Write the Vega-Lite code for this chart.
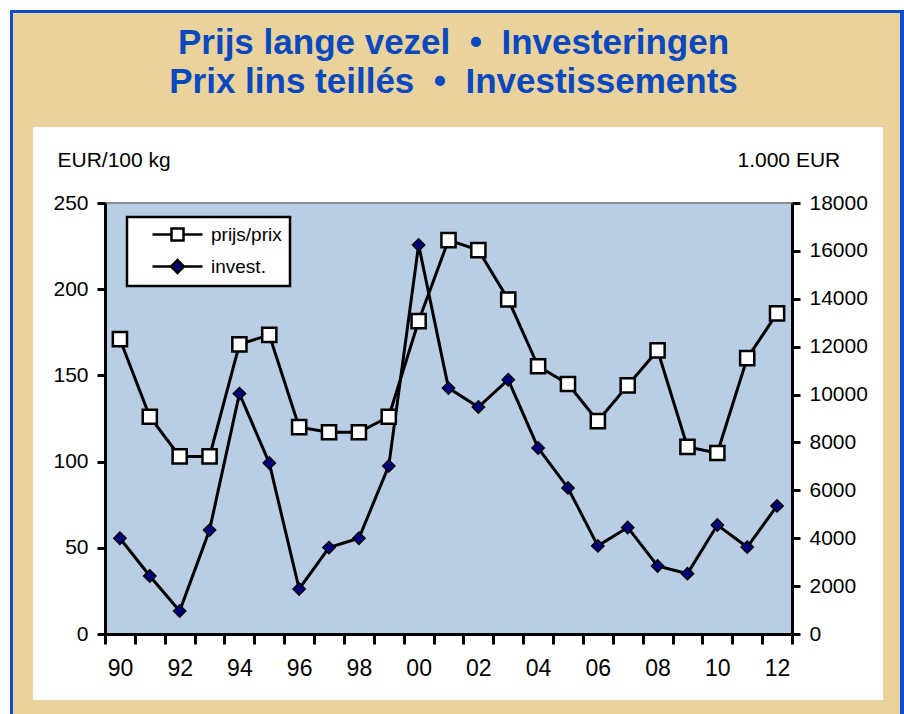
{
  "$schema": "https://vega.github.io/schema/vega-lite/v6.json",
  "background": "white",
  "padding": {"left": 10, "top": 10, "right": 0, "bottom": 0},
  "data": {"values": []},
  "columns": 7,
  "spacing": 0,
  "bounds": "flush",
  "align": "each",
  "config": {
    "view": {"stroke": null},
    "font": "Liberation Sans",
    "legend": {
      "orient": "none", "legendX": 117, "legendY": 207,
      "fillColor": "white", "strokeColor": "black", "strokeWidth": 2.5,
      "padding": 8, "labelFont": "Liberation Sans", "labelFontSize": 19, "labelColor": "black",
      "symbolSize": 256, "symbolOffset": 33, "labelOffset": 24, "rowPadding": 9,
      "symbolStrokeColor": "black", "symbolStrokeWidth": 2.5, "symbolOpacity": 1, "labelLimit": 300
    }
  },
  "concat": [
    {"width": 3, "height": 3, "mark": "point", "view": {"fill": "#0A50C8"}},
    {"width": 20, "height": 3, "mark": "point", "view": {"fill": "#0A50C8"}},
    {"width": 72, "height": 3, "mark": "point", "view": {"fill": "#0A50C8"}},
    {"width": 687, "height": 3, "mark": "point", "view": {"fill": "#0A50C8"}},
    {"width": 91, "height": 3, "mark": "point", "view": {"fill": "#0A50C8"}},
    {"width": 17, "height": 3, "mark": "point", "view": {"fill": "#0A50C8"}},
    {"width": 4, "height": 3, "mark": "point", "view": {"fill": "#0A50C8"}},

    {"width": 3, "height": 114, "mark": "point", "view": {"fill": "#0A50C8"}},
    {"width": 20, "height": 114, "mark": "point", "view": {"fill": "#E9D29C"}},
    {"width": 72, "height": 114, "mark": "point", "view": {"fill": "#E9D29C"}},
    {
      "width": 687, "height": 114,
      "view": {"fill": "#E9D29C"},
      "data": {"values": [
        {"t": "Prijs lange vezel\u00a0\u00a0•\u00a0\u00a0Investeringen", "r": 1},
        {"t": "Prix lins teillés\u00a0\u00a0•\u00a0\u00a0Investissements", "r": 2}
      ]},
      "mark": {"type": "text", "font": "Liberation Sans", "fontSize": 35, "fontWeight": "bold", "color": "#0A48C0", "baseline": "middle", "dx": 5},
      "encoding": {
        "text": {"field": "t"},
        "y": {"field": "r", "type": "quantitative", "axis": null, "scale": {"domain": [0.23, 3.15], "reverse": true, "nice": false, "zero": false}}
      }
    },
    {"width": 91, "height": 114, "mark": "point", "view": {"fill": "#E9D29C"}},
    {"width": 17, "height": 114, "mark": "point", "view": {"fill": "#E9D29C"}},
    {"width": 4, "height": 114, "mark": "point", "view": {"fill": "#0A50C8"}},

    {"width": 3, "height": 76, "mark": "point", "view": {"fill": "#0A50C8"}},
    {"width": 20, "height": 76, "mark": "point", "view": {"fill": "#E9D29C"}},
    {"width": 72, "height": 76, "mark": "point"},
    {"width": 687, "height": 76, "mark": "point"},
    {"width": 91, "height": 76, "mark": "point"},
    {"width": 17, "height": 76, "mark": "point", "view": {"fill": "#E9D29C"}},
    {"width": 4, "height": 76, "mark": "point", "view": {"fill": "#0A50C8"}},

    {"width": 3, "height": 431, "mark": "point", "view": {"fill": "#0A50C8"}},
    {"width": 20, "height": 431, "mark": "point", "view": {"fill": "#E9D29C"}},
    {"width": 72, "height": 431, "mark": "point"},
    {
      "width": 687, "height": 431,
      "view": {"fill": "#B9CDE4", "stroke": "#8c8c8c", "strokeWidth": 2},
      "data": {"values": [
        {"yr": "90", "prijs": 171, "invest": 4000},
        {"yr": "91", "prijs": 126, "invest": 2420},
        {"yr": "92", "prijs": 103, "invest": 960},
        {"yr": "93", "prijs": 103, "invest": 4340},
        {"yr": "94", "prijs": 168, "invest": 10040},
        {"yr": "95", "prijs": 173.5, "invest": 7140},
        {"yr": "96", "prijs": 120, "invest": 1880},
        {"yr": "97", "prijs": 117, "invest": 3610},
        {"yr": "98", "prijs": 117, "invest": 4000},
        {"yr": "99", "prijs": 126, "invest": 7020},
        {"yr": "00", "prijs": 181.5, "invest": 16250},
        {"yr": "01", "prijs": 228.5, "invest": 10270},
        {"yr": "02", "prijs": 222.7, "invest": 9480},
        {"yr": "03", "prijs": 194, "invest": 10620},
        {"yr": "04", "prijs": 155.3, "invest": 7770},
        {"yr": "05", "prijs": 145, "invest": 6100},
        {"yr": "06", "prijs": 123.5, "invest": 3680},
        {"yr": "07", "prijs": 144.2, "invest": 4450},
        {"yr": "08", "prijs": 164.5, "invest": 2840},
        {"yr": "09", "prijs": 108.5, "invest": 2520},
        {"yr": "10", "prijs": 105, "invest": 4550},
        {"yr": "11", "prijs": 160, "invest": 3630},
        {"yr": "12", "prijs": 186, "invest": 5350}
      ]},
      "layer": [
        {
          "mark": {"type": "line", "color": "black", "strokeWidth": 3},
          "encoding": {
            "x": {"field": "yr", "type": "ordinal", "sort": null, "bandPosition": 0.5,
              "scale": {"type": "band", "paddingInner": 0, "paddingOuter": 0},
              "axis": {"title": null, "labelAngle": 0, "labelExpr": "toNumber(datum.value) % 2 == 0 ? datum.label : ''",
                "labelOverlap": false, "labelFont": "Liberation Sans", "labelFontSize": 23, "labelColor": "black", "labelPadding": 13,
                "tickBand": "extent", "tickSize": 10, "tickWidth": 3, "tickColor": "black",
                "domainWidth": 3, "domainColor": "black", "grid": false}},
            "y": {"field": "prijs", "type": "quantitative", "scale": {"domain": [0, 250], "nice": false},
              "axis": {"orient": "left", "values": [0, 50, 100, 150, 200, 250], "title": "EUR/100 kg",
                "titleAngle": 0, "titleAlign": "left", "titleBaseline": "middle", "titleX": -48, "titleY": -43,
                "titleFont": "Liberation Sans", "titleFontSize": 21, "titleFontWeight": "normal", "titleColor": "black",
                "labelFont": "Liberation Sans", "labelFontSize": 21, "labelColor": "black", "labelPadding": 9,
                "domainColor": "black", "domainWidth": 3, "tickColor": "black", "tickWidth": 3, "tickSize": 8, "grid": false}}
          }
        },
        {
          "mark": {"type": "line", "color": "black", "strokeWidth": 3},
          "encoding": {
            "x": {"field": "yr", "type": "ordinal", "sort": null, "bandPosition": 0.5,
              "scale": {"type": "band", "paddingInner": 0, "paddingOuter": 0}},
            "y": {"field": "invest", "type": "quantitative", "scale": {"domain": [0, 18000], "nice": false},
              "axis": {"orient": "right", "values": [0, 2000, 4000, 6000, 8000, 10000, 12000, 14000, 16000, 18000], "format": "d",
                "title": "1.000 EUR",
                "titleAngle": 0, "titleAlign": "left", "titleBaseline": "middle", "titleX": -55, "titleY": -43,
                "titleFont": "Liberation Sans", "titleFontSize": 21, "titleFontWeight": "normal", "titleColor": "black",
                "labelFont": "Liberation Sans", "labelFontSize": 21, "labelColor": "black", "labelPadding": 9,
                "domainColor": "black", "domainWidth": 3, "tickColor": "black", "tickWidth": 3, "tickSize": 8, "grid": false}}
          }
        },
        {
          "mark": {"type": "point", "shape": "square", "filled": true, "fill": "white", "stroke": "black", "strokeWidth": 2.5, "size": 200, "opacity": 1},
          "encoding": {
            "x": {"field": "yr", "type": "ordinal", "sort": null, "bandPosition": 0.5,
              "scale": {"type": "band", "paddingInner": 0, "paddingOuter": 0}},
            "y": {"field": "prijs", "type": "quantitative", "scale": {"domain": [0, 250], "nice": false}, "axis": null}
          }
        },
        {
          "mark": {"type": "point", "shape": "diamond", "filled": true, "fill": "#000080", "stroke": "black", "strokeWidth": 1.5, "size": 150, "opacity": 1},
          "encoding": {
            "x": {"field": "yr", "type": "ordinal", "sort": null, "bandPosition": 0.5,
              "scale": {"type": "band", "paddingInner": 0, "paddingOuter": 0}},
            "y": {"field": "invest", "type": "quantitative", "scale": {"domain": [0, 18000], "nice": false}, "axis": null}
          }
        },
        {
          "data": {"values": [{"s": "prijs/prix"}, {"s": "invest."}]},
          "mark": {"type": "point", "filled": true, "opacity": 0, "strokeWidth": 2.5},
          "encoding": {
            "shape": {"field": "s", "type": "nominal", "sort": null,
              "scale": {"domain": ["prijs/prix", "invest."], "range": [
                "M-3.125,0H-0.75M0.75,0H3.125M-0.75,-0.75H0.75V0.75H-0.75Z",
                "M-3.125,0H-0.8M0.8,0H3.125M-0.8,0L0,-0.8L0.8,0L0,0.8Z"]},
              "legend": {"title": null}},
            "fill": {"field": "s", "type": "nominal", "sort": null,
              "scale": {"domain": ["prijs/prix", "invest."], "range": ["white", "#000080"]},
              "legend": {"title": null}},
            "stroke": {"field": "s", "type": "nominal", "sort": null,
              "scale": {"domain": ["prijs/prix", "invest."], "range": ["black", "black"]},
              "legend": {"title": null}}
          }
        }
      ],
      "resolve": {"scale": {"y": "independent"}}
    },
    {"width": 91, "height": 431, "mark": "point"},
    {"width": 17, "height": 431, "mark": "point", "view": {"fill": "#E9D29C"}},
    {"width": 4, "height": 431, "mark": "point", "view": {"fill": "#0A50C8"}},

    {"width": 3, "height": 66, "mark": "point", "view": {"fill": "#0A50C8"}},
    {"width": 20, "height": 66, "mark": "point", "view": {"fill": "#E9D29C"}},
    {"width": 72, "height": 66, "mark": "point"},
    {"width": 687, "height": 66, "mark": "point"},
    {"width": 91, "height": 66, "mark": "point"},
    {"width": 17, "height": 66, "mark": "point", "view": {"fill": "#E9D29C"}},
    {"width": 4, "height": 66, "mark": "point", "view": {"fill": "#0A50C8"}},

    {"width": 3, "height": 14, "mark": "point", "view": {"fill": "#0A50C8"}},
    {"width": 20, "height": 14, "mark": "point", "view": {"fill": "#E9D29C"}},
    {"width": 72, "height": 14, "mark": "point", "view": {"fill": "#E9D29C"}},
    {"width": 687, "height": 14, "mark": "point", "view": {"fill": "#E9D29C"}},
    {"width": 91, "height": 14, "mark": "point", "view": {"fill": "#E9D29C"}},
    {"width": 17, "height": 14, "mark": "point", "view": {"fill": "#E9D29C"}},
    {"width": 4, "height": 14, "mark": "point", "view": {"fill": "#0A50C8"}}
  ]
}
